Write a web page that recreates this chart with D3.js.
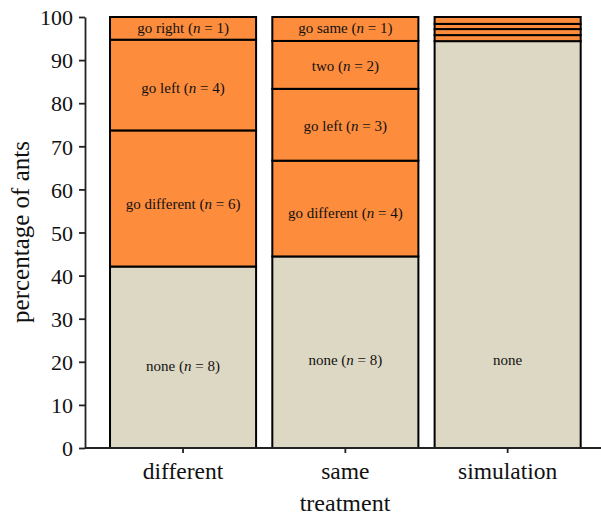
<!DOCTYPE html>
<html>
<head>
<meta charset="utf-8">
<script src="https://cdn.jsdelivr.net/npm/d3@7"></script>
<style>
  html, body { margin: 0; padding: 0; background: #fff; }
  svg { display: block; }
  text { font-family: "Liberation Serif", "Times New Roman", serif; fill: #111; }
</style>
</head>
<body>
<svg id="chart" width="601" height="517"></svg>
<script>
// ---- data ----
const treatments = ["different", "same", "simulation"];
// segment names per treatment (bottom to top)
const diffNames = ["none", "go different", "go left", "go right"];
const diffCounts = [8, 6, 4, 1];
const sameNames = ["none", "go different", "go left", "two", "go same"];
const sameCounts = [8, 4, 3, 2, 1];
const simNames = ["none", "a", "b", "c", "d"];
const simPercents = [94.4, 1.4, 1.4, 1.2, 1.6];
// label positions (percent)
const diffLabelAt = [19.0, 56.6, 83.3, 97.4];
const sameLabelAt = [20.2, 54.5, 74.5, 88.6, 97.4];
const simLabelAt = [20.2];
const yTicks = [0, 10, 20, 30, 40, 50, 60, 70, 80, 90, 100];

const colNone = "#ddd8c3";
const colOther = "#fd8c3c";

function toPercent(counts) {
  const total = d3.sum(counts);
  return counts.map(c => c / total * 100);
}

const bars = [
  { t: "different", names: diffNames, pct: toPercent(diffCounts), counts: diffCounts, labelAt: diffLabelAt, showN: true },
  { t: "same", names: sameNames, pct: toPercent(sameCounts), counts: sameCounts, labelAt: sameLabelAt, showN: true },
  { t: "simulation", names: simNames, pct: simPercents, counts: null, labelAt: simLabelAt, showN: false }
];

const svg = d3.select("#chart");
const FONT = "'Liberation Serif', 'Times New Roman', serif";

const y = d3.scaleLinear().domain([0, 100]).range([448, 17]);
const x = d3.scaleBand().domain(treatments).range([101.9, 588.8])
  .paddingInner(0.1).paddingOuter(0.05);

// bars
bars.forEach(b => {
  let cum = 0;
  const segs = b.pct.map((p, i) => {
    const s = { name: b.names[i], y0: cum, y1: cum + p, i };
    cum += p;
    return s;
  });
  const g = svg.append("g");
  g.selectAll("rect").data(segs).enter().append("rect")
    .attr("x", x(b.t))
    .attr("width", x.bandwidth())
    .attr("y", d => y(d.y1))
    .attr("height", d => y(d.y0) - y(d.y1))
    .attr("fill", d => d.i === 0 ? colNone : colOther)
    .attr("stroke", "#000")
    .attr("stroke-width", 2);

  b.labelAt.forEach((pos, i) => {
    const t = g.append("text")
      .attr("x", x(b.t) + x.bandwidth() / 2)
      .attr("y", y(pos) + 4.5)
      .attr("text-anchor", "middle")
      .style("font-family", FONT)
      .style("font-size", "15px");
    if (b.showN) {
      t.append("tspan").text(b.names[i] + " (");
      t.append("tspan").style("font-style", "italic").text("n");
      t.append("tspan").text(" = " + b.counts[i] + ")");
    } else {
      t.text(b.names[i]);
    }
  });
});

// y axis
const yAxis = svg.append("g")
  .attr("transform", "translate(85,0)")
  .call(d3.axisLeft(y).tickValues(yTicks).tickSize(6).tickSizeOuter(0).tickPadding(6));
yAxis.select(".domain").attr("stroke", "#222").attr("stroke-width", 1.8);
yAxis.selectAll(".tick line").attr("stroke", "#222").attr("stroke-width", 1.8);
yAxis.selectAll(".tick text")
  .style("font-family", FONT)
  .style("font-size", "22px")
  .attr("fill", "#111")
  .attr("dy", "0.35em");

// x axis
const xAxis = svg.append("g")
  .attr("transform", "translate(0,448)")
  .call(d3.axisBottom(x).tickSize(5).tickSizeOuter(0).tickPadding(9));
xAxis.select(".domain").remove();
xAxis.append("line")
  .attr("x1", 85).attr("x2", 601).attr("y1", 0).attr("y2", 0)
  .attr("stroke", "#222").attr("stroke-width", 1.8);
xAxis.selectAll(".tick line").attr("stroke", "#222").attr("stroke-width", 1.8);
xAxis.selectAll(".tick text")
  .style("font-family", FONT)
  .style("font-size", "23.5px")
  .attr("fill", "#111");

// axis titles
svg.append("text")
  .attr("x", 345).attr("y", 511)
  .attr("text-anchor", "middle")
  .style("font-family", FONT)
  .style("font-size", "24px")
  .text("treatment");

svg.append("text")
  .attr("transform", "translate(29,232) rotate(-90)")
  .attr("text-anchor", "middle")
  .style("font-family", FONT)
  .style("font-size", "25px")
  .text("percentage of ants");
</script>
</body>
</html>
